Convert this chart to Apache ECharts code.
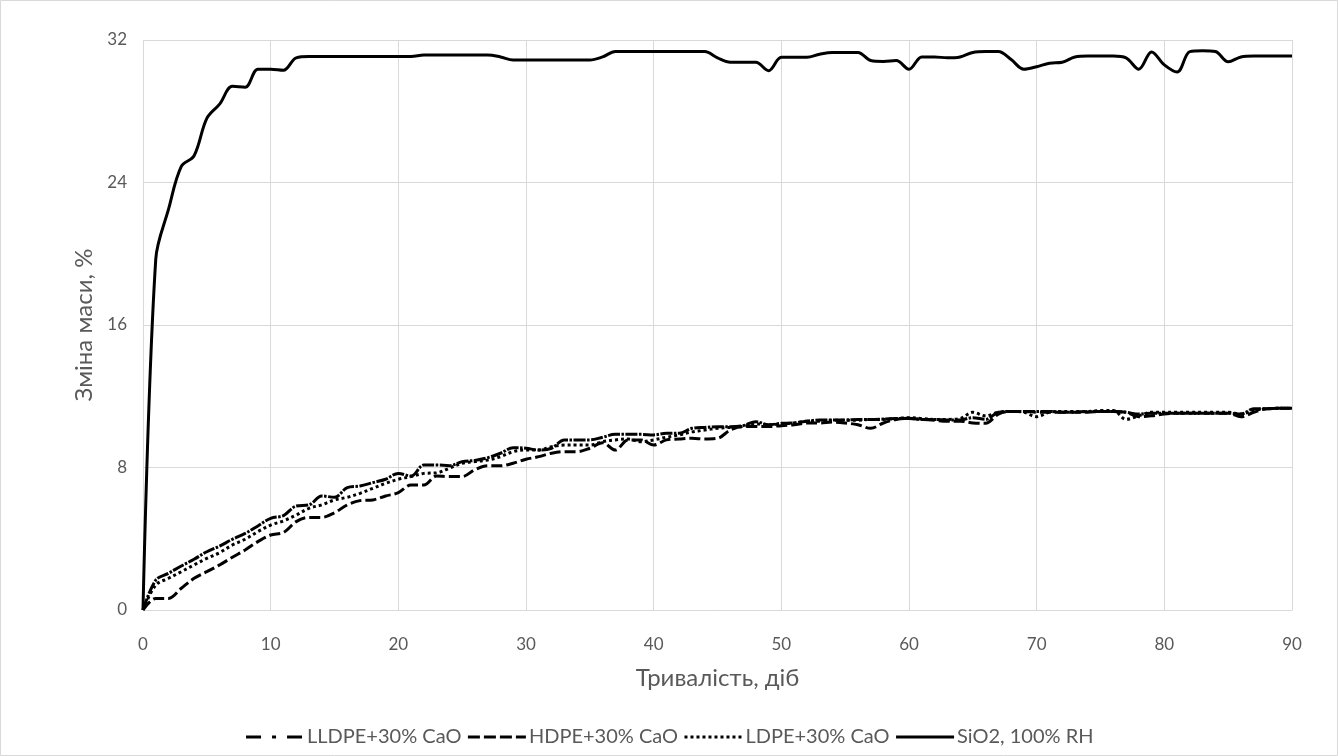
<!DOCTYPE html>
<html>
<head>
<meta charset="utf-8">
<script src="https://cdn.jsdelivr.net/npm/echarts@6/dist/echarts.min.js"></script>
<style>
  html, body { margin: 0; padding: 0; background: #fff; }
  #chart { width: 1338px; height: 756px; }
</style>
</head>
<body>
<div id="chart"></div>
<script>
// Days of exposure, 0..90
const days = Array.from({ length: 91 }, (_, i) => i);

const seriesNames = ['LLDPE+30% CaO', 'HDPE+30% CaO', 'LDPE+30% CaO', 'SiO2, 100% RH'];

// Mass change, %
const lldpe = [
  0, 1.68, 2.06, 2.47, 2.85, 3.27, 3.59, 3.97, 4.30, 4.72,
  5.15, 5.30, 5.84, 5.90, 6.40, 6.33, 6.87, 6.96, 7.15, 7.34,
  7.67, 7.52, 8.14, 8.14, 8.10, 8.33, 8.40, 8.55, 8.80, 9.11,
  9.08, 8.98, 9.08, 9.55, 9.55, 9.55, 9.70, 9.86, 9.86, 9.86,
  9.83, 9.92, 9.92, 10.20, 10.25, 10.29, 10.29, 10.35, 10.57, 10.40,
  10.48, 10.50, 10.60, 10.67, 10.67, 10.67, 10.70, 10.70, 10.72, 10.75,
  10.76, 10.70, 10.70, 10.67, 10.67, 10.80, 10.70, 11.10, 11.15, 11.15,
  11.15, 11.15, 11.10, 11.10, 11.15, 11.15, 11.15, 11.10, 11.00, 11.05,
  11.04, 11.04, 11.04, 11.05, 11.05, 11.05, 11.00, 11.30, 11.30, 11.32,
  11.32
];

const hdpe = [
  0, 0.65, 0.65, 1.22, 1.78, 2.15, 2.53, 2.96, 3.37, 3.84,
  4.21, 4.35, 4.96, 5.20, 5.20, 5.46, 5.90, 6.14, 6.18, 6.40,
  6.59, 7.02, 7.02, 7.52, 7.49, 7.49, 7.88, 8.10, 8.10, 8.24,
  8.46, 8.61, 8.80, 8.89, 8.89, 9.08, 9.39, 8.98, 9.55, 9.55,
  9.26, 9.55, 9.60, 9.64, 9.60, 9.64, 10.10, 10.30, 10.30, 10.30,
  10.35, 10.40, 10.50, 10.50, 10.55, 10.50, 10.40, 10.20, 10.50, 10.70,
  10.75, 10.70, 10.65, 10.60, 10.60, 10.50, 10.48, 11.00, 11.15, 11.15,
  11.10, 11.10, 11.10, 11.10, 11.10, 11.15, 11.15, 11.10, 10.85, 10.90,
  11.00, 11.04, 11.04, 11.04, 11.04, 11.05, 10.85, 11.10, 11.30, 11.32,
  11.32
];

const ldpe = [
  0, 1.40, 1.78, 2.15, 2.53, 2.90, 3.22, 3.65, 3.97, 4.40,
  4.77, 5.00, 5.33, 5.71, 5.90, 6.18, 6.33, 6.55, 6.83, 7.11,
  7.34, 7.49, 7.67, 7.70, 7.96, 8.24, 8.33, 8.42, 8.61, 8.89,
  8.98, 8.98, 9.17, 9.26, 9.26, 9.26, 9.45, 9.55, 9.60, 9.45,
  9.55, 9.70, 9.83, 10.00, 10.10, 10.20, 10.25, 10.30, 10.45, 10.40,
  10.45, 10.50, 10.60, 10.60, 10.65, 10.65, 10.65, 10.70, 10.70, 10.75,
  10.80, 10.75, 10.70, 10.70, 10.75, 11.10, 10.90, 11.10, 11.15, 11.10,
  10.85, 11.10, 11.15, 11.15, 11.15, 11.20, 11.20, 10.70, 10.90, 11.10,
  11.10, 11.10, 11.10, 11.10, 11.10, 11.10, 11.00, 11.20, 11.30, 11.32,
  11.32
];

const sio2 = [
  0, 19.7, 22.5, 24.9, 25.5, 27.6, 28.4, 29.4, 29.35, 30.36,
  30.36, 30.30, 31.00, 31.07, 31.07, 31.07, 31.07, 31.07, 31.07, 31.07,
  31.07, 31.07, 31.16, 31.16, 31.16, 31.16, 31.16, 31.16, 31.05, 30.88,
  30.88, 30.88, 30.88, 30.88, 30.88, 30.88, 31.05, 31.35, 31.35, 31.35,
  31.35, 31.35, 31.35, 31.35, 31.35, 31.00, 30.75, 30.75, 30.75, 30.28,
  31.03, 31.03, 31.03, 31.20, 31.30, 31.30, 31.30, 30.85, 30.80, 30.85,
  30.36, 31.05, 31.05, 31.00, 31.05, 31.30, 31.35, 31.35, 30.90, 30.36,
  30.50, 30.70, 30.75, 31.05, 31.10, 31.10, 31.10, 31.00, 30.36, 31.33,
  30.60, 30.20, 31.35, 31.40, 31.35, 30.78, 31.05, 31.10, 31.10, 31.10,
  31.10
];

// Axis settings
const xMin = 0, xMax = 90, xStep = 10;
const yMin = 0, yMax = 32, yStep = 8;

const font = 'Lato, "Open Sans", "DejaVu Sans", sans-serif';
const textColor = '#595959';
const gridColor = '#d9d9d9';

function pairs(values) {
  return days.map((d, i) => [d, values[i]]);
}

// Dash patterns of the plotted curves
const lineStyles = [
  { type: [12, 1.5, 2.5, 1.5] },
  { type: [11, 4] },
  { type: [3, 3] },
  { type: 'solid' }
];
// Dash patterns of the legend samples
const legendDash = [[15, 11, 4, 11], [12, 4], [3, 3], 'solid'];
const values = [lldpe, hdpe, ldpe, sio2];

const chart = echarts.init(document.getElementById('chart'), null, { renderer: 'canvas' });

chart.setOption({
  backgroundColor: '#fff',
  animation: false,
  textStyle: { fontFamily: font },
  graphic: [{
    type: 'rect',
    shape: { x: 0.5, y: 0.5, width: 1337, height: 755 },
    style: { fill: 'none', stroke: gridColor, lineWidth: 1 },
    silent: true
  }],
  grid: { left: 143, right: 46, top: 40, bottom: 146 },
  legend: {
    bottom: 4,
    left: 'center',
    itemWidth: 58,
    itemHeight: 12,
    itemGap: 5,
    textStyle: { color: textColor, fontSize: 20, fontFamily: font, padding: [0, 0, 0, -2] },
    data: seriesNames.map((name, i) => ({
      name: name,
      itemStyle: { opacity: 0 },
      lineStyle: { type: legendDash[i], width: 3, color: '#000' }
    }))
  },
  xAxis: {
    type: 'value',
    min: xMin, max: xMax, interval: xStep,
    name: 'Тривалість, діб',
    nameLocation: 'middle',
    nameGap: 56,
    nameTextStyle: { color: textColor, fontSize: 24, fontFamily: font },
    axisLine: { show: true, lineStyle: { color: gridColor, width: 1 } },
    axisTick: { show: false },
    axisLabel: { color: textColor, fontSize: 17, margin: 26, fontFamily: font },
    splitLine: { show: true, lineStyle: { color: gridColor, width: 1 } }
  },
  yAxis: {
    type: 'value',
    min: yMin, max: yMax, interval: yStep,
    name: 'Зміна маси, %',
    nameLocation: 'middle',
    nameGap: 40,
    nameTextStyle: { color: textColor, fontSize: 24, fontFamily: font },
    axisLine: { show: false },
    axisTick: { show: false },
    axisLabel: { color: textColor, fontSize: 17, margin: 16, fontFamily: font },
    splitLine: { show: true, lineStyle: { color: gridColor, width: 1 } }
  },
  series: seriesNames.map((name, i) => ({
    name: name,
    type: 'line',
    data: pairs(values[i]),
    smooth: 0.35,
    showSymbol: false,
    symbol: 'none',
    lineStyle: Object.assign({ color: '#000', width: 3 }, lineStyles[i]),
    itemStyle: { color: '#000' },
    z: 3 + i
  }))
});
</script>
</body>
</html>
